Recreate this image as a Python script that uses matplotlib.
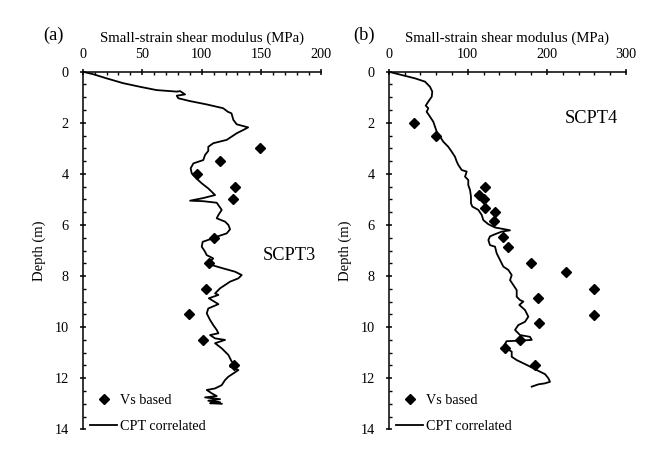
import matplotlib
matplotlib.use("Agg")
from matplotlib import pyplot as plt
from matplotlib.ticker import MultipleLocator

# SCPT3 - Vs based points
vs3_gmax = [149, 115, 96, 128, 126, 110, 106, 104, 89, 101, 127]
vs3_depth = [3.0, 3.5, 4.0, 4.5, 5.0, 6.5, 7.5, 8.5, 9.5, 10.5, 11.5]

# SCPT3 - CPT correlated profile
cpt3_gmax = [0, 8.9, 20, 34, 48, 62, 79, 81.8, 86, 79, 80.3, 90, 104, 118, 122, 125,
             126.6, 129.4, 139, 135, 129.4, 121, 109.7, 105.5, 105.5, 102.8, 101.3, 93,
             90.7, 91.6, 96, 100, 105.5, 108.4, 111.2, 101, 90.2, 101.3, 112.6, 116.8,
             114, 112.6, 119.6, 122.4, 123.8, 121, 112.6, 107, 100.8, 100, 102.8, 104.2,
             109.7, 107, 108.4, 118, 128, 133.6, 130.8, 123.8, 115.4, 111.2, 114, 106,
             108.4, 114, 105.5, 104.2, 107, 109.7, 112.6, 114, 107, 111.2, 119.6, 111.2,
             116.8, 122.4, 125.2, 129.4, 123.8, 130.8, 126.6, 122.4, 119.6, 116.8, 111.2,
             104.2, 108.4, 112.6, 102.8, 115.4, 105.5, 115.4, 107, 116.8]
cpt3_depth = [0, 0.1, 0.26, 0.45, 0.59, 0.72, 0.78, 0.76, 0.89, 0.94, 1.04, 1.15, 1.28,
              1.43, 1.57, 1.63, 1.89, 2.06, 2.18, 2.28, 2.41, 2.67, 2.8, 2.94, 3.1, 3.26,
              3.46, 3.59, 3.78, 3.98, 4.2, 4.37, 4.57, 4.7, 4.83, 4.95, 5.05, 5.07, 5.13,
              5.41, 5.61, 5.74, 5.87, 6.0, 6.17, 6.33, 6.46, 6.56, 6.66, 6.85, 7.05, 7.18,
              7.31, 7.44, 7.57, 7.7, 7.83, 7.96, 8.09, 8.22, 8.48, 8.68, 8.74, 8.87, 8.94,
              9.1, 9.27, 9.46, 9.72, 9.92, 10.11, 10.24, 10.31, 10.44, 10.5, 10.63, 10.83,
              11.09, 11.35, 11.48, 11.55, 11.68, 11.81, 11.94, 12.07, 12.27, 12.4, 12.46,
              12.59, 12.7, 12.75, 12.82, 12.88, 12.94, 12.98, 13.0]

# SCPT4 - Vs based points
vs4_gmax = [32, 60, 122, 114, 121, 122, 135, 133.5, 144, 151, 180, 224.5, 259.5, 189,
            259.5, 190.4, 166, 147, 184.5]
vs4_depth = [2.0, 2.5, 4.5, 4.83, 5.0, 5.35, 5.5, 5.85, 6.48, 6.85, 7.5, 7.85, 8.52,
             8.85, 9.51, 9.85, 10.5, 10.82, 11.48]

# SCPT4 - CPT correlated profile
cpt4_gmax = [0, 16.4, 33.2, 45.9, 52.2, 55.1, 54.4, 50.1, 46.8, 50.1, 48, 52.2, 56.4,
             58.5, 60.7, 64.9, 69, 75.3, 79.6, 83.8, 86, 88, 92.3, 98.6, 96.5, 100.6,
             100.6, 102.8, 104, 104, 105.7, 113.3, 117.6, 119.6, 125.9, 134.4, 147, 153.4,
             142.9, 132.2, 128, 126, 128, 134.4, 136.5, 140.7, 144.9, 151.2, 155.5, 153.4,
             157.5, 161.8, 161.8, 166, 170.2, 165.1, 172.3, 176.5, 172.3, 163.8, 159.7,
             166, 178.6, 180.8, 165, 149, 145, 149, 155.5, 155.5, 161.8, 174.5, 187.1,
             197.6, 201.8, 203.9, 197.6, 189.1, 180.8]
cpt4_depth = [0, 0.13, 0.26, 0.39, 0.59, 0.78, 0.98, 1.17, 1.33, 1.43, 1.57, 1.76, 1.96,
              2.15, 2.35, 2.54, 2.74, 2.94, 3.13, 3.33, 3.52, 3.65, 3.85, 3.91, 4.11, 4.24,
              4.44, 4.63, 4.89, 5.15, 5.28, 5.41, 5.61, 5.81, 5.97, 6.1, 6.17, 6.21, 6.26,
              6.39, 6.45, 6.59, 6.79, 6.85, 7.11, 7.37, 7.63, 7.76, 7.96, 8.16, 8.35, 8.55,
              8.81, 8.94, 9.0, 9.13, 9.33, 9.59, 9.79, 9.92, 10.11, 10.31, 10.38, 10.5,
              10.53, 10.55, 10.77, 10.83, 10.96, 11.16, 11.29, 11.48, 11.68, 11.84, 12.0,
              12.14, 12.2, 12.24, 12.33]

plt.rcParams['font.family'] = ['Liberation Serif', 'DejaVu Serif']
plt.rcParams['font.size'] = 10

fig = plt.figure(figsize=(6.65, 4.71), dpi=100)
axL = fig.add_axes([0.1244, 0.0885, 0.3579, 0.7593])
axR = fig.add_axes([0.5845, 0.0885, 0.3569, 0.7593])


def style_axis(ax, xmax, xmajor, xminor, ylabel_x):
    ax.set_xlim(0, xmax)
    ax.set_ylim(14, 0)
    ax.spines['right'].set_visible(False)
    ax.spines['bottom'].set_visible(False)
    ax.spines['top'].set_linewidth(1.1)
    ax.spines['left'].set_linewidth(1.1)
    ax.xaxis.tick_top()
    ax.xaxis.set_label_position('top')
    ax.xaxis.set_major_locator(MultipleLocator(xmajor))
    ax.xaxis.set_minor_locator(MultipleLocator(xminor))
    ax.yaxis.set_major_locator(MultipleLocator(2))
    ax.yaxis.set_minor_locator(MultipleLocator(0.5))
    ax.tick_params(which='major', direction='inout', length=5, width=1.1, labelsize=10.3)
    ax.tick_params(axis='x', which='major', pad=5.5)
    ax.tick_params(axis='y', which='major', pad=7.5)
    ax.tick_params(which='minor', direction='in', length=2.5, width=1.0)
    ax.set_xlabel('Small-strain shear modulus (MPa)', fontsize=10.7, labelpad=4)
    ax.set_ylabel('Depth (m)', fontsize=10.5)
    ax.yaxis.set_label_coords(ylabel_x, 0.5)


for ax, vg, vd, cg, cd, xmax, xmajor, xminor, ylx in [
        (axL, vs3_gmax, vs3_depth, cpt3_gmax, cpt3_depth, 200, 50, 10, -0.154),
        (axR, vs4_gmax, vs4_depth, cpt4_gmax, cpt4_depth, 300, 100, 20, -0.156)]:
    ax.plot(vg, vd, 'D', color='black', markersize=5.5, linestyle='none', label='Vs based')
    ax.plot(cg, cd, color='black', linewidth=1.3, label='CPT correlated')
    style_axis(ax, xmax, xmajor, xminor, ylx)
    ax.legend(loc='lower left', frameon=False, borderpad=0, borderaxespad=0,
              bbox_to_anchor=(0.032, -0.01), handlelength=1.9, handletextpad=0.2,
              labelspacing=0.9, fontsize=10.2)

axL.text(0.87, 0.487, 'SCPT3', transform=axL.transAxes, ha='center', va='center', fontsize=13.2)
axR.text(0.852, 0.870, 'SCPT4', transform=axR.transAxes, ha='center', va='center', fontsize=13.2)
fig.text(0.0797, 0.9257, '(a)', ha='center', va='center', fontsize=13.2)
fig.text(0.5477, 0.9257, '(b)', ha='center', va='center', fontsize=13.2)

fig.savefig('out.png', dpi=100)
